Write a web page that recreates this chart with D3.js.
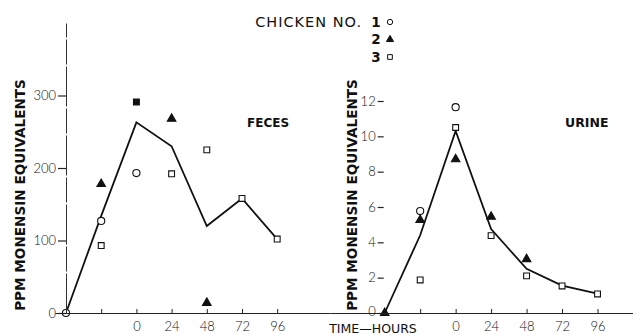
<!DOCTYPE html>
<html>
<head>
<meta charset="utf-8">
<script src="https://cdn.jsdelivr.net/npm/d3@7"></script>
<style>
  body { margin: 0; background: #fff; }
  svg { display: block; }
  .tick text { font-family: "Lato", "Open Sans", sans-serif; font-weight: 300; font-size: 13px; fill: #111; }
  .lbl { font-family: "DejaVu Sans", "Noto Sans", sans-serif; font-weight: 700; fill: #111; }
</style>
</head>
<body>
<div id="chart"></div>
<script>
// godziny pobrania probek (pierwszy punkt to start, bez etykiety)
const hours = [-48, -24, 0, 24, 48, 72, 96];
const hourTicks = [-24, 0, 24, 48, 72, 96];

// kal (feces), ppm
const fecesMean = [0, 134, 263, 230, 120, 158, 102];
const fecesC1 = [{ h: -48, v: 0 }, { h: -24, v: 127 }, { h: 0, v: 193 }];
const fecesC2 = [{ h: -24, v: 178 }, { h: 24, v: 268 }, { h: 48, v: 14 }];
const fecesC3 = [{ h: -24, v: 93 }, { h: 24, v: 192 }, { h: 48, v: 225 }, { h: 72, v: 158 }, { h: 96, v: 102 }];
const fecesOverlap = [{ h: 0, v: 291 }]; // kurczak 2 i 3 na sobie
const fecesTicks = [0, 100, 200, 300];

// mocz (urine), ppm
const urineMean = [0, 4.4, 10.3, 4.75, 2.5, 1.55, 1.1];
const urineC1 = [{ h: -24, v: 5.77 }, { h: 0, v: 11.65 }];
const urineC2 = [{ h: -48, v: 0 }, { h: -24, v: 5.26 }, { h: 0, v: 8.7 }, { h: 24, v: 5.45 }, { h: 48, v: 3.05 }];
const urineC3 = [{ h: -24, v: 1.87 }, { h: 0, v: 10.5 }, { h: 24, v: 4.38 }, { h: 48, v: 2.1 }, { h: 72, v: 1.53 }, { h: 96, v: 1.08 }];
const urineTicks = [0, 2, 4, 6, 8, 10, 12];

const chickens = ["1", "2", "3"];

const width = 633, height = 335;
const baseY = 313;

const svg = d3.select("#chart").append("svg")
  .attr("width", width).attr("height", height);

// skale
const xL = d3.scaleLinear().domain([-55.5, 132]).range([55, 330]);
const yL = d3.scaleLinear().domain([0, 400]).range([baseY, 23]);
const xR = d3.scaleLinear().domain([-85, 120]).range([330, 633]);
const yR = d3.scaleLinear().domain([0, 12]).range([baseY, 101]);

const sym = {
  circle: d3.symbol().type(d3.symbolCircle).size(40),
  triangle: d3.symbol().type(d3.symbolTriangle).size(32),
  square: d3.symbol().type(d3.symbolSquare).size(34)
};

function drawPanel(x, y, mean, c1, c2, c3, filled) {
  const g = svg.append("g");

  // linia srednia
  g.append("path")
    .datum(hours.map((h, i) => ({ h, v: mean[i] })))
    .attr("fill", "none").attr("stroke", "#111").attr("stroke-width", 1.8)
    .attr("d", d3.line().x(d => x(d.h)).y(d => y(d.v)));

  const pts = (data, shape, fill) => g.append("g").selectAll("path")
    .data(data).join("path")
    .attr("transform", d => `translate(${x(d.h)},${y(d.v)})`)
    .attr("d", sym[shape])
    .attr("fill", fill).attr("stroke", "#111").attr("stroke-width", 1.1);

  pts(c3, "square", "#fff");
  pts(filled, "square", "#111");
  pts(c1, "circle", "#fff");
  pts(c2, "triangle", "#111");
}

drawPanel(xL, yL, fecesMean, fecesC1, fecesC2, fecesC3, fecesOverlap);
drawPanel(xR, yR, urineMean, urineC1, urineC2, urineC3, []);

// osie X
const xAxis = (x) => d3.axisBottom(x).tickValues(hourTicks)
  .tickSize(-4).tickSizeOuter(0).tickPadding(9)
  .tickFormat(d => d < 0 ? "" : d);

[xL, xR].forEach(x => {
  svg.append("g").attr("transform", `translate(0,${baseY})`).call(xAxis(x))
    .call(g => g.select(".domain").attr("stroke", "#222").attr("stroke-width", 1.1))
    .call(g => g.selectAll(".tick line").attr("stroke", "#222"));
});

// os Y - kal (z linia)
svg.append("g").attr("transform", `translate(${xL(-48)},0)`)
  .call(d3.axisLeft(yL).tickValues(fecesTicks).tickSize(8).tickSizeOuter(0).tickPadding(2))
  .call(g => g.select(".domain").attr("stroke", "#333").attr("stroke-width", 1).attr("stroke-dasharray", "40,2,25,2"))
  .call(g => g.selectAll(".tick line").attr("stroke", "#222").attr("stroke-width", 1.2));

// os Y - mocz (bez linii, tylko kreski)
svg.append("g").attr("transform", `translate(${xR(-48) - 1},0)`)
  .call(d3.axisLeft(yR).tickValues(urineTicks).tickSize(6).tickSizeOuter(0).tickPadding(2))
  .call(g => g.select(".domain").remove())
  .call(g => g.selectAll(".tick line").attr("stroke", "#222").attr("stroke-width", 1.2))
  .call(g => g.selectAll(".tick").filter(d => d === 0).select("text").attr("dy", "0.2em"));

// tytuly osi Y
[20, 352].forEach(cx => {
  svg.append("text").attr("class", "lbl")
    .attr("transform", `translate(${cx},${195}) rotate(-90)`)
    .attr("text-anchor", "middle").attr("dy", "0.35em")
    .style("font-size", "13.6px").style("font-weight", 600)
    .text("PPM MONENSIN EQUIVALENTS");
});

svg.append("text").attr("class", "lbl").attr("x", 373).attr("y", 333)
  .attr("text-anchor", "middle").style("font-size", "12.5px").style("font-weight", 400)
  .text("TIME\u2014HOURS");

svg.append("text").attr("class", "lbl").attr("x", 247).attr("y", 127)
  .style("font-size", "12px").text("FECES");
svg.append("text").attr("class", "lbl").attr("x", 565).attr("y", 127)
  .style("font-size", "12.5px").text("URINE");

// legenda
svg.append("text").attr("class", "lbl").attr("x", 362).attr("y", 27)
  .attr("text-anchor", "end").style("font-size", "14.5px").style("font-weight", 400)
  .style("letter-spacing", "1px")
  .text("CHICKEN NO.");

const legShapes = [d3.symbolCircle, d3.symbolTriangle, d3.symbolSquare];
const legY = d3.scalePoint().domain(chickens).range([22, 57]);
const leg = svg.append("g").selectAll("g").data(chickens).join("g")
  .attr("transform", d => `translate(0,${legY(d)})`);
leg.append("text").attr("class", "lbl").attr("x", 376).attr("dy", "0.35em")
  .attr("text-anchor", "middle").style("font-size", "13.5px")
  .text(d => d);
leg.append("path")
  .attr("transform", "translate(390,0)")
  .attr("d", (d, i) => d3.symbol().type(legShapes[i]).size(22)())
  .attr("fill", (d, i) => i === 1 ? "#111" : "#fff")
  .attr("stroke", "#111").attr("stroke-width", 1);
</script>
</body>
</html>
